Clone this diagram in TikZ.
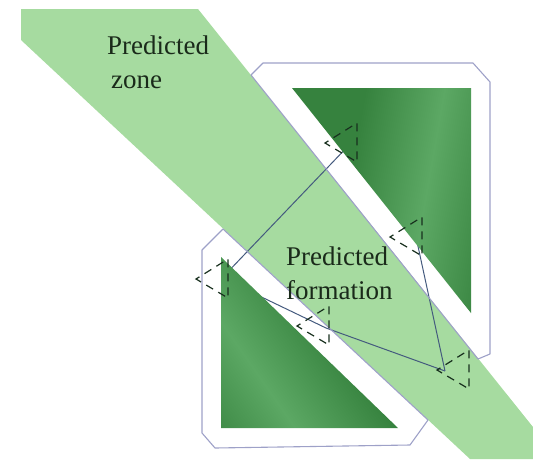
\documentclass[tikz,border=0pt]{standalone}
\usepackage{fontspec}
\setmainfont{Liberation Serif}
\definecolor{band}{RGB}{166,219,160}
\definecolor{gdark}{RGB}{54,130,62}
\definecolor{glight}{RGB}{92,168,100}
\definecolor{octo}{RGB}{158,161,200}
\definecolor{link}{RGB}{68,90,126}
\definecolor{mark}{RGB}{24,48,30}
\definecolor{txt}{RGB}{26,42,26}
\pgfdeclarehorizontalshading{streak}{100bp}{color(0bp)=(gdark); color(36bp)=(gdark); color(50bp)=(glight); color(64bp)=(gdark); color(100bp)=(gdark)}
\tikzset{
  octline/.style={draw=octo, line width=1.1pt, line join=round},
  linkline/.style={draw=link, line width=1pt},
  robotline/.style={draw=mark, line width=1.2pt, dash pattern=on 8pt off 6pt},
  lbl/.style={font=\fontsize{27}{34}\selectfont, text=txt, align=left, inner sep=0pt, anchor=base west},
  robotmark/.pic={\draw[robotline] (3.4,2) -- (0,0) -- (32,-20) -- (32,19) -- cycle;}
}
\begin{document}
\begin{tikzpicture}[x=1pt,y=-1pt]
\useasboundingbox (0,0) rectangle (533,459);
% predicted zone
\fill[band] (21,9) -- (198,9) -- (533,427) -- (533,459) -- (470,459) -- (21,40) -- cycle;
% robot link points
\coordinate (r1) at (351,143);
\coordinate (r2) at (222,278);
\coordinate (r3) at (326,328);
\coordinate (r4) at (445,371);
\coordinate (r5) at (416,237);
% formation links
\draw[linkline] (r1) -- (r2);
\draw[linkline] (r2) -- (r3);
\draw[linkline] (r3) -- (r4);
\draw[linkline] (r5) -- (r4);
% obstacles
\begin{scope}
  \clip (292,88) -- (471,88) -- (471,313) -- cycle;
  \shade[shading=streak, shading angle=-10] (285,60) rectangle (565,340);
\end{scope}
\begin{scope}
  \clip (221,257) -- (221,428) -- (398,428) -- cycle;
  \shade[shading=streak, shading angle=35] (115,235) rectangle (415,535);
\end{scope}
% expanded obstacle outlines
\draw[octline] (251,75) -- (263,63) -- (473,63) -- (490,82) -- (490,354) -- (478,359) -- cycle;
\draw[octline] (223,229) -- (202,250) -- (202,433) -- (215,448) -- (410,445) -- (428,420) -- cycle;
% robots
\pic at (325,143) {robotmark};
\pic at (196,279) {robotmark};
\pic at (297,326) {robotmark};
\pic at (437,370) {robotmark};
\pic at (390,237) {robotmark};
% labels
\node[lbl] (zone) at (107,88) {Predicted\\\hspace{4pt}zone};
\node[lbl] (form) at (286,299) {Predicted\\formation};
\end{tikzpicture}
\end{document}
